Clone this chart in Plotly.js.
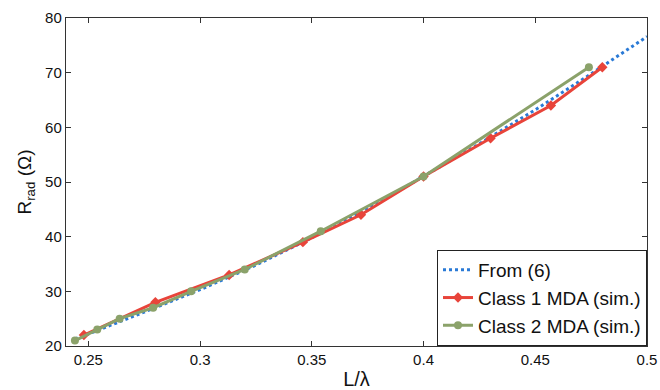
<!DOCTYPE html>
<html>
<head>
<meta charset="utf-8">
<script src="https://cdn.plot.ly/plotly-3.0.1.min.js"></script>
<style>html,body{margin:0;padding:0;background:#fff;}#chart{width:660px;height:390px;}</style>
</head>
<body>
<div id="chart"></div>
<script>
// From (6) – theoretical curve
const theoryX = [0.244, 0.25, 0.275, 0.3, 0.325, 0.35, 0.375, 0.4, 0.425, 0.45, 0.475, 0.5];
const theoryY = [21.3, 22.2, 26.2, 30.3, 34.8, 39.8, 45.1, 51.0, 57.0, 63.2, 69.8, 76.6];

// Class 1 MDA (sim.)
const class1X = [0.248, 0.280, 0.313, 0.346, 0.372, 0.400, 0.430, 0.457, 0.480];
const class1Y = [22, 28, 33, 39, 44, 51, 58, 64, 71];

// Class 2 MDA (sim.)
const class2X = [0.244, 0.254, 0.264, 0.279, 0.296, 0.320, 0.354, 0.400, 0.474];
const class2Y = [21, 23, 25, 27, 30, 34, 41, 51, 71];

const xTicks = [0.25, 0.3, 0.35, 0.4, 0.45, 0.5];
const xTickLabels = ['0.25', '0.3', '0.35', '0.4', '0.45', '0.5'];
const yTicks = [20, 30, 40, 50, 60, 70, 80];

const seriesNames = ['From (6)', 'Class 1 MDA (sim.)', 'Class 2 MDA (sim.)'];

const traces = [
  {
    x: theoryX, y: theoryY, name: seriesNames[0], mode: 'lines',
    line: {color: '#2a7ad6', width: 3, dash: 'dot'}
  },
  {
    x: class1X, y: class1Y, name: seriesNames[1], mode: 'lines+markers',
    line: {color: '#e8443a', width: 3},
    marker: {symbol: 'diamond', size: 8, color: '#e8443a'}
  },
  {
    x: class2X, y: class2Y, name: seriesNames[2], mode: 'lines+markers',
    line: {color: '#8ba26a', width: 3},
    marker: {symbol: 'circle', size: 8, color: '#8ba26a'}
  }
];

const font = 'Liberation Sans, Arial, Helvetica, sans-serif';

const layout = {
  width: 660, height: 390,
  margin: {l: 66, r: 13, t: 18, b: 44},
  paper_bgcolor: '#fff', plot_bgcolor: '#fff',
  font: {family: font, size: 15, color: '#111'},
  showlegend: true,
  legend: {
    x: 1, xanchor: 'right', y: 0, yanchor: 'bottom',
    bgcolor: '#fff', bordercolor: '#222', borderwidth: 1,
    font: {family: font, size: 19, color: '#111'},
    itemwidth: 30, tracegroupgap: 0
  },
  xaxis: {
    range: [0.24, 0.5],
    tickvals: xTicks, ticktext: xTickLabels,
    ticks: 'inside', ticklen: 5, tickcolor: '#333',
    showline: true, linecolor: '#333', linewidth: 1.2, mirror: 'ticks',
    showgrid: false, zeroline: false,
    tickfont: {family: font, size: 15, color: '#111'},
    title: {text: 'L/λ', font: {family: font, size: 20, color: '#111'}, standoff: 4}
  },
  yaxis: {
    range: [20, 80],
    tickvals: yTicks,
    ticks: 'inside', ticklen: 5, tickcolor: '#333',
    showline: true, linecolor: '#333', linewidth: 1.2, mirror: 'ticks',
    showgrid: false, zeroline: false,
    tickfont: {family: font, size: 15, color: '#111'},
    title: {text: 'R<sub>rad</sub> (Ω)', font: {family: font, size: 19, color: '#111'}, standoff: 8}
  }
};

Plotly.newPlot('chart', traces, layout, {staticPlot: true, displayModeBar: false});
</script>
</body>
</html>
